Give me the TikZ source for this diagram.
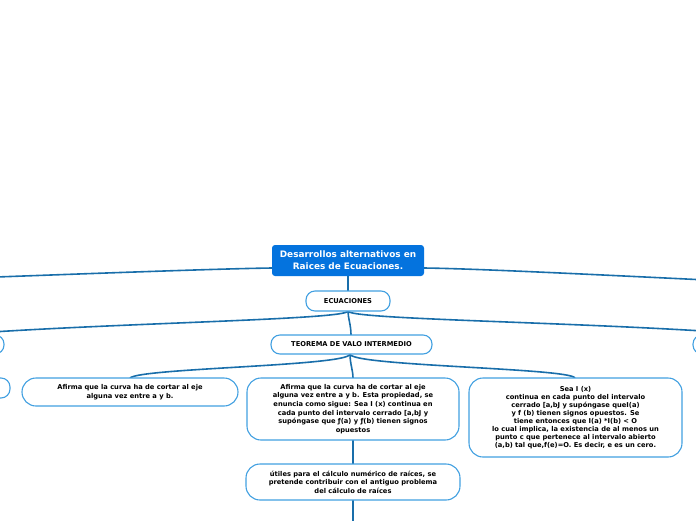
\documentclass[tikz,border=0pt]{standalone}
\usepackage{fontspec}
\setmainfont{DejaVu Sans}
\begin{document}
\begin{tikzpicture}[x=1pt,y=-1pt,
  rootbox/.style={fill=rootblue, rounded corners=3pt, text=white, font=\fontsize{8.9}{12}\selectfont\bfseries, align=center, minimum width=152pt, minimum height=31pt, inner sep=0pt},
  pill/.style={draw=boxblue, line width=1.1pt, fill=white, rounded corners=9pt, font=\fontsize{6.7}{8.6}\selectfont\bfseries, align=center, inner sep=0pt},
  bigbox/.style={pill, rounded corners=14pt},
  conn/.style={draw=linkblue, line width=1.6pt},
]
\definecolor{rootblue}{RGB}{4,115,222}
\definecolor{boxblue}{RGB}{66,160,225}
\definecolor{linkblue}{RGB}{25,110,170}
\useasboundingbox (0,0) rectangle (696,520);
\clip (0,0) rectangle (696,520);

\coordinate (farL) at (-300,288);
\coordinate (farR) at (1000,294);
\coordinate (below) at (353,560);
\coordinate (rootW) at (272,268);
\coordinate (rootE) at (424,268);
\coordinate (rootS) at (348,276);
\coordinate (ecuN) at (348,291);
\coordinate (ecuS) at (348,311);
\coordinate (teoN) at (351,335);
\coordinate (teoS) at (350,354);
\coordinate (pl1N) at (-50,335);
\coordinate (pr1N) at (760,335);
\coordinate (caN) at (130,378);
\coordinate (cbN) at (353,378);
\coordinate (ccN) at (575,378);
\coordinate (cbS) at (353,440);
\coordinate (cdN) at (353,464);
\coordinate (cdS) at (353,500);

% connectors
\draw[conn] (rootW) .. controls (200,269) and (0,277) .. (farL);
\draw[conn] (rootE) .. controls (500,269) and (696,280) .. (farR);
\draw[conn] (rootS) -- (ecuN);
\draw[conn] (ecuS) .. controls (348,320) and (100,323) .. (pl1N);
\draw[conn] (ecuS) .. controls (348,320) and (600,322) .. (pr1N);
\draw[conn] (ecuS) .. controls (348,318) and (351,325) .. (teoN);
\draw[conn] (teoS) .. controls (350,366) and (140,368) .. (caN);
\draw[conn] (teoS) .. controls (350,366) and (570,368) .. (ccN);
\draw[conn] (teoS) .. controls (350,364) and (353,370) .. (cbN);
\draw[conn] (cbS) -- (cdN);
\draw[conn] (cdS) -- (below);

% nodes
\node[rootbox] (root) at (348,260.5) {Desarrollos alternativos en\\Raices de Ecuaciones.};
\node[pill, minimum width=84pt, minimum height=20pt] (ecu) at (348,301) {ECUACIONES};
\node[pill, minimum width=161pt, minimum height=19pt] (teo) at (351.5,344.5) {TEOREMA DE VALO INTERMEDIO};
\node[pill, minimum width=108pt, minimum height=19pt] (pl1) at (-50,344.5) {};
\node[pill, minimum width=134pt, minimum height=19pt] (pr1) at (760,344.5) {};
\node[pill, minimum width=140pt, minimum height=20pt] (pl2) at (-60,388) {};
\node[bigbox, minimum width=216pt, minimum height=28pt] (ca) at (130,392) {Afirma que la curva ha de cortar al eje\\alguna vez entre a y b.};
\node[bigbox, minimum width=212pt, minimum height=62pt] (cb) at (353,409) {Afirma que la curva ha de cortar al eje\\alguna vez entre a y b. Esta propiedad, se\\enuncia como sigue: Sea I (x) continua en\\cada punto del intervalo cerrado [a,bJ y\\supóngase que ƒ(a) y ƒ(b) tienen signos\\opuestos};
\node[bigbox, minimum width=213pt, minimum height=79pt, font=\fontsize{6.7}{8}\selectfont\bfseries] (cc) at (575.5,417.5) {Sea I (x)\\continua en cada punto del intervalo\\cerrado [a,bJ y supóngase queI(a)\\y f (b) tienen signos opuestos. Se\\tiene entonces que I(a) *I(b) < O\\lo cual implica, la existencia de al menos un\\punto c que pertenece al intervalo abierto\\(a,b) tal que,f(e)=O. Es decir, e es un cero.};
\node[bigbox, minimum width=214pt, minimum height=36pt] (cd) at (353,482) {útiles para el cálculo numérico de raíces, se\\pretende contribuir con el antiguo problema\\del cálculo de raíces};
\end{tikzpicture}
\end{document}
